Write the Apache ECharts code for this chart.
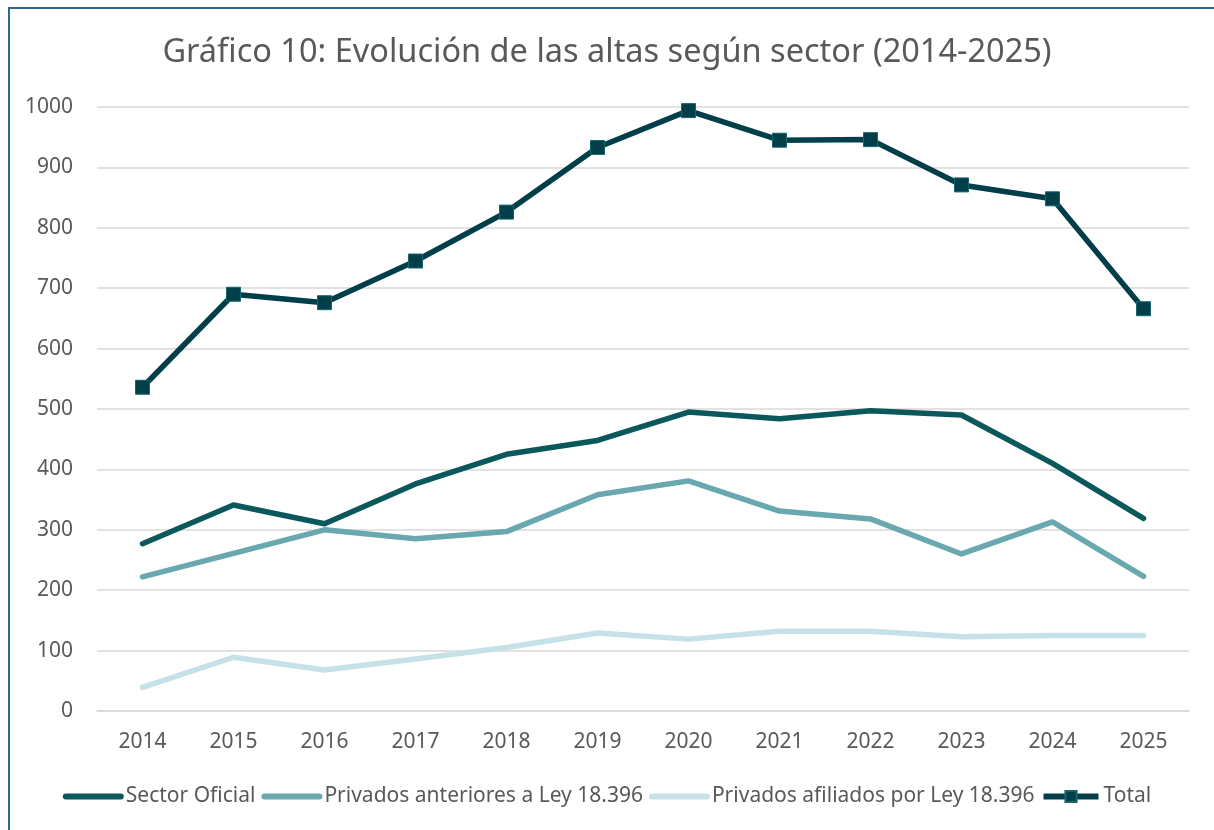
<!DOCTYPE html>
<html>
<head>
<meta charset="utf-8">
<script src="https://cdn.jsdelivr.net/npm/echarts@6/dist/echarts.min.js"></script>
<style>
  html, body { margin: 0; padding: 0; background: #fff; }
  #frame { position: absolute; left: 8px; top: 7px; width: 1206px; height: 823px;
           border-top: 2px solid #2b6a8c; border-left: 2px solid #2b6a8c; box-sizing: border-box; }
  #chart { position: absolute; left: 0; top: 0; width: 1214px; height: 830px; }
</style>
</head>
<body>
<div id="frame"></div>
<div id="chart"></div>
<script>
  // datos
  const years = ['2014', '2015', '2016', '2017', '2018', '2019', '2020', '2021', '2022', '2023', '2024', '2025'];
  const sectorOficial = [277, 341, 310, 376, 425, 448, 495, 484, 497, 490, 410, 319];
  const privadosAnteriores = [222, 261, 300, 285, 297, 358, 381, 331, 318, 260, 313, 223];
  const privadosAfiliados = [39, 89, 68, 86, 105, 129, 119, 132, 132, 123, 125, 125];
  const total = [536, 690, 676, 745, 826, 933, 994, 945, 946, 871, 848, 666];

  const font = "'Noto Sans', sans-serif";
  const chart = echarts.init(document.getElementById('chart'));

  function lineSeries(name, data, color) {
    return {
      name: name,
      type: 'line',
      data: data,
      symbol: 'circle',
      showSymbol: false,
      lineStyle: { color: color, width: 5.5, cap: 'round', join: 'round' },
      itemStyle: { color: color }
    };
  }

  // en la leyenda solo se ve la linea, sin simbolo
  const noSymbol = { opacity: 0 };

  chart.setOption({
    animation: false,
    textStyle: { fontFamily: font },
    title: {
      text: 'Gráfico 10: Evolución de las altas según sector (2014-2025)',
      left: 'center',
      top: 31,
      textStyle: { fontFamily: font, fontSize: 32.5, fontWeight: 'normal', color: '#595959' }
    },
    legend: {
      bottom: 18,
      left: 'center',
      itemWidth: 55,
      itemHeight: 14,
      itemGap: 6,
      lineStyle: { width: 6 },
      textStyle: { fontFamily: font, fontSize: 21, color: '#595959' },
      data: [
        { name: 'Sector Oficial', itemStyle: noSymbol },
        { name: 'Privados anteriores a Ley 18.396', itemStyle: noSymbol },
        { name: 'Privados afiliados por Ley 18.396', itemStyle: noSymbol },
        'Total'
      ]
    },
    grid: { left: 97, right: 25, top: 107, bottom: 119 },
    xAxis: {
      type: 'category',
      data: years,
      boundaryGap: true,
      axisLine: { lineStyle: { color: '#d9d9d9', width: 1.5 } },
      axisTick: { show: false },
      axisLabel: { color: '#595959', fontSize: 21, margin: 21, fontFamily: font }
    },
    yAxis: {
      type: 'value',
      min: 0,
      max: 1000,
      interval: 100,
      axisLine: { show: false },
      axisTick: { show: false },
      axisLabel: { color: '#595959', fontSize: 21, margin: 24, fontFamily: font, formatter: v => String(v) },
      splitLine: { lineStyle: { color: '#d9d9d9', width: 1.5 } }
    },
    series: [
      lineSeries('Sector Oficial', sectorOficial, '#0a585b'),
      lineSeries('Privados anteriores a Ley 18.396', privadosAnteriores, '#68a8ae'),
      lineSeries('Privados afiliados por Ley 18.396', privadosAfiliados, '#c6e1e7'),
      {
        name: 'Total',
        type: 'line',
        data: total,
        symbol: 'rect',
        symbolSize: 14,
        lineStyle: { color: '#003f4a', width: 5.5, join: 'round' },
        itemStyle: { color: '#003f4a', borderColor: '#14676e', borderWidth: 1 }
      }
    ]
  });
</script>
</body>
</html>
